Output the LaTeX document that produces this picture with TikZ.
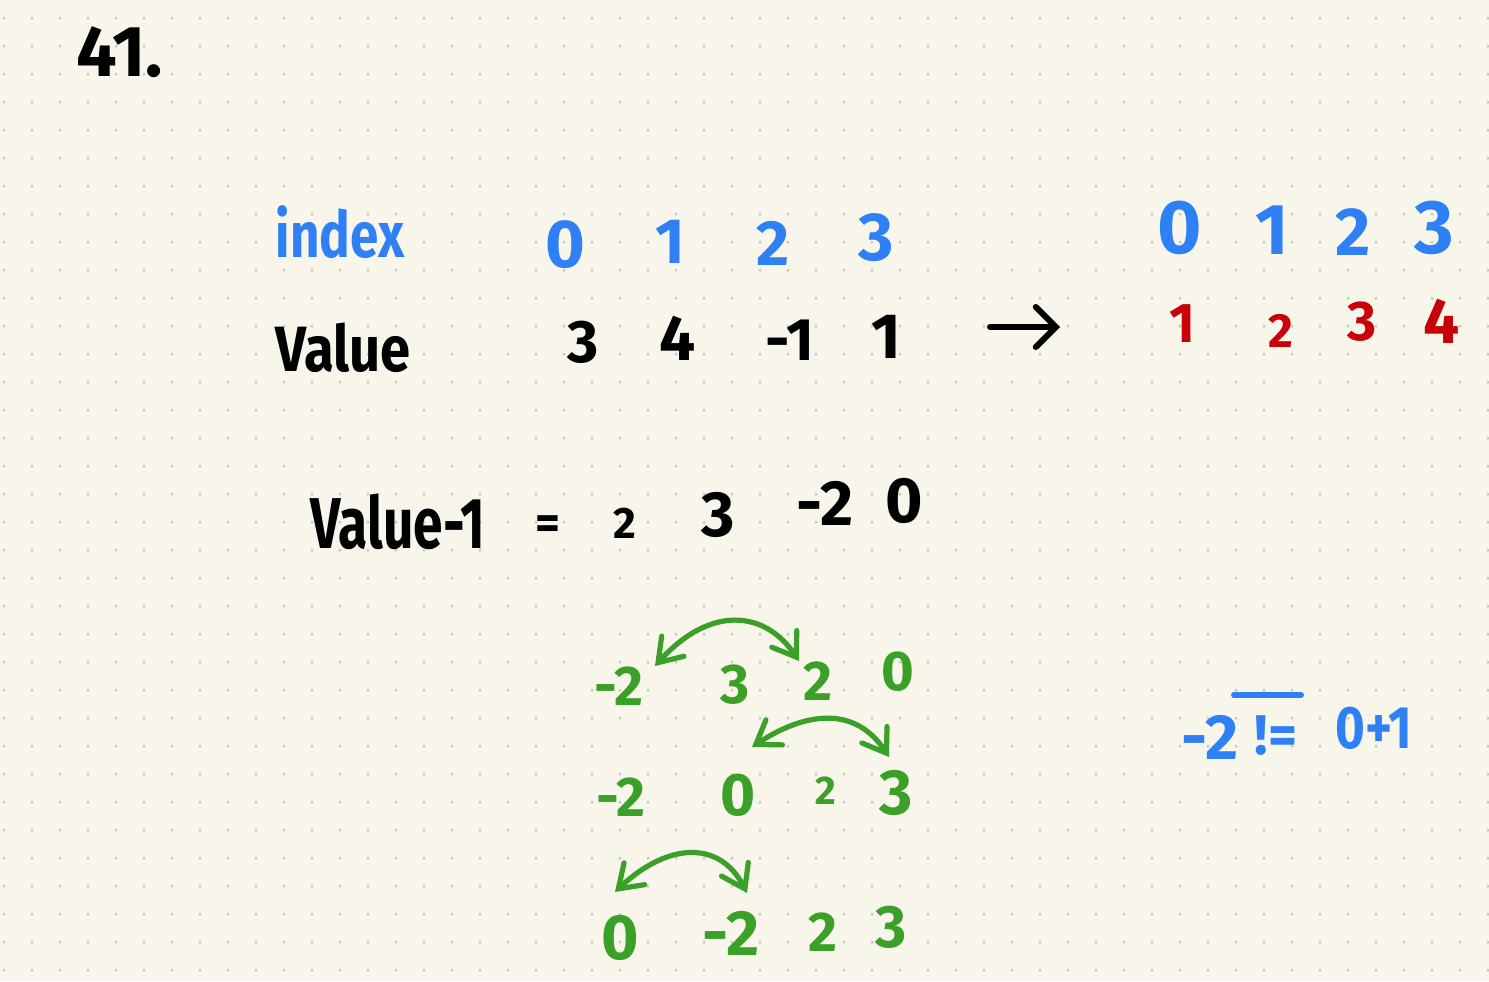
\documentclass[tikz,border=0pt]{standalone}
\usepackage{fontspec}
\usepackage{graphicx}
\setmainfont{Fira Sans}
\usetikzlibrary{arrows.meta}
\definecolor{paper}{RGB}{248,246,235}
\definecolor{gdot}{RGB}{200,200,194}
\definecolor{inkblue}{RGB}{47,128,245}
\definecolor{inkred}{RGB}{200,0,10}
\definecolor{inkgreen}{RGB}{58,160,40}
\definecolor{inkblack}{RGB}{0,0,0}
\begin{document}
\begin{tikzpicture}[x=0.5pt,y=-0.5pt,
  hw/.style={inner sep=0pt, font=\bfseries\fontsize{#1}{#1}\selectfont},
  bl/.style={hw=#1, text=inkblue},
  rd/.style={hw=#1, text=inkred},
  gr/.style={hw=#1, text=inkgreen},
  bk/.style={hw=#1, text=inkblack},
  swap/.style={draw=inkgreen, line width=2.6pt, line cap=round,
    {Straight Barb[length=11pt,width=15pt,line cap=round]}-{Straight Barb[length=11pt,width=15pt,line cap=round]}},
  maparrow/.style={draw=inkblack, line width=3pt, line cap=round,
    -{Straight Barb[length=10pt,width=20pt,line cap=round]}}]
% paper and dot grid
\fill[paper] (0,0) rectangle (1489,981);
\useasboundingbox (0,0) rectangle (1489,981);
\foreach \i in {0,...,53}{
  \foreach \j in {0,...,34}{
    \fill[gdot] (4+28*\i,18.3+28*\j) circle[radius=1.6];
  }
}
% title
\node[bk=36] (title) at (120,52) {41.};
% index row
\node[bl=32] (idx) at (340,232) {\scalebox{0.8}[1]{index}};
\node[bl=34] (i0) at (565,245) {0};
\node[bl=32] (i1) at (670,242) {1};
\node[bl=32] (i2) at (773,243) {2};
\node[bl=34] (i3) at (876,238) {3};
% value row
\node[bk=32] (val) at (343,348) {\scalebox{0.85}[1]{Value}};
\node[bk=30] (v0) at (583,342) {3};
\node[bk=32] (v1) at (678,338) {4};
\node[bk=30] (v2) at (790,340) {-1};
\node[bk=32] (v3) at (886,337) {1};
% mapping arrow
\coordinate (arrS) at (990,327);
\coordinate (arrE) at (1060,327);
\draw[maparrow] (arrS) -- (arrE);
% right-hand index row
\node[bl=38] (r0) at (1180,228) {0};
\node[bl=36] (r1) at (1272,230) {1};
\node[bl=34] (r2) at (1353,232) {2};
\node[bl=38] (r3) at (1434,228) {3};
% sorted values
\node[rd=28] (s0) at (1182,324) {1};
\node[rd=24] (s1) at (1281,331) {2};
\node[rd=28] (s2) at (1362,322) {3};
\node[rd=32] (s3) at (1442,321) {4};
% value-1 row
\node[bk=36] (vm) at (398,522) {\scalebox{0.74}[1]{Value-1}};
\node[bk=24] (eq) at (548,528) {=};
\node[bk=22] (w0) at (625,523) {2};
\node[bk=32] (w1) at (718,515) {3};
\node[bk=32] (w2) at (825,503) {-2};
\node[bk=32] (w3) at (904,501) {0};
% green swaps, step 1
\node[gr=28] (a0) at (619,686) {-2};
\node[gr=28] (a1) at (735,685) {3};
\node[gr=28] (a2) at (818,681) {2};
\node[gr=28] (a3) at (898,672) {0};
\coordinate (a0t) at (655,666);
\coordinate (a2t) at (799,661);
\draw[swap] (a0t) .. controls (710,605) and (765,610) .. (a2t);
% step 2
\node[gr=28] (b0) at (621,797) {-2};
\node[gr=30] (b1) at (738,795) {0};
\node[gr=20] (b2) at (826,791) {2};
\node[gr=32] (b3) at (896,793) {3};
\coordinate (b1t) at (752,747);
\coordinate (b3t) at (889,757);
\draw[swap] (b1t) .. controls (805,712) and (855,705) .. (b3t);
% step 3
\node[gr=32] (c0) at (620,938) {0};
\node[gr=32] (c1) at (731,933) {-2};
\node[gr=28] (c2) at (823,932) {2};
\node[gr=30] (c3) at (891,927) {3};
\coordinate (c0t) at (615,892);
\coordinate (c1t) at (747,893);
\draw[swap] (c0t) .. controls (668,842) and (720,840) .. (c1t);
% note
\node[bl=32] (n0) at (1210,737) {-2};
\node[bl=28] (n1) at (1276,736) {!=};
\node[bl=30] (n2) at (1374,728) {\scalebox{0.85}[1]{0+1}};
\coordinate (ovL) at (1234,695);
\coordinate (ovR) at (1301,695);
\draw[inkblue, line width=3pt, line cap=round] (ovL) -- (ovR);
\end{tikzpicture}
\end{document}
